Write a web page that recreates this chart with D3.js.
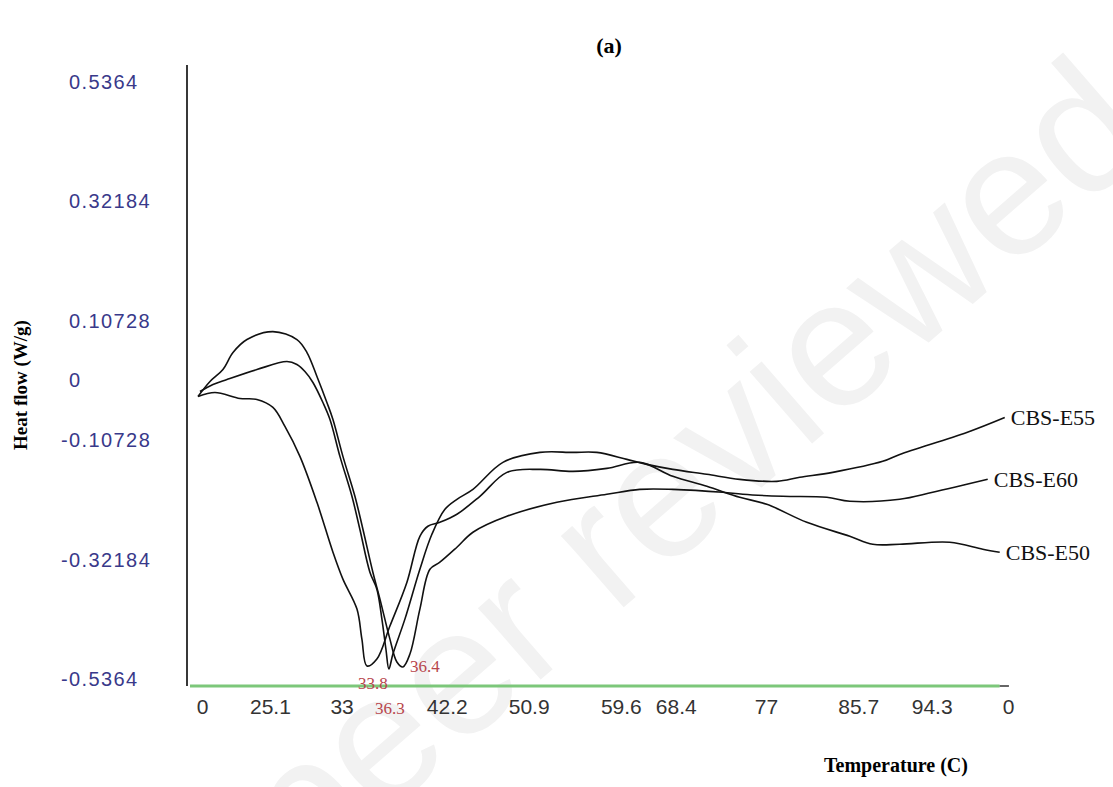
<!DOCTYPE html>
<html>
<head>
<meta charset="utf-8">
<script src="https://cdn.jsdelivr.net/npm/d3@7"></script>
<style>
  body { margin: 0; background: #fff; }
  svg { display: block; }
</style>
</head>
<body>
<svg width="1113" height="787"></svg>
<script>
// temperature (C) vs heat flow (W/g)
const e55Temp = [15.68, 17.08, 18.58, 21.80, 25.03, 26.10, 26.96, 27.82, 28.89, 29.65, 30.72, 32.01, 32.86, 33.94, 34.69, 35.23, 35.66, 35.98, 36.41, 37.70, 39.31, 40.60, 42.00, 43.29, 45.01, 48.23, 52.20, 55.75, 58.32, 61.55, 63.70, 66.49, 70.14, 73.68, 77.66, 80.13, 83.67, 89.04, 90.87, 98.07, 102.15];
const e55Flow = [-0.0197, -0.0072, 0.0018, 0.0197, 0.0341, 0.0287, 0.0161, -0.0036, -0.0395, -0.0700, -0.1363, -0.2081, -0.2673, -0.3445, -0.3750, -0.4288, -0.4825, -0.5183, -0.4916, -0.4288, -0.3391, -0.2763, -0.2314, -0.2135, -0.1956, -0.1471, -0.1292, -0.1292, -0.1292, -0.1417, -0.1507, -0.1597, -0.1686, -0.1776, -0.1812, -0.1740, -0.1651, -0.1453, -0.1328, -0.0933, -0.0664];

const e60Temp = [15.47, 16.76, 18.15, 19.23, 20.73, 23.52, 26.10, 27.18, 28.25, 29.32, 29.97, 31.04, 32.33, 33.19, 34.26, 35.02, 36.09, 36.84, 37.49, 38.24, 39.31, 40.39, 41.46, 43.29, 45.01, 48.66, 54.03, 59.40, 62.94, 66.49, 71.86, 74.01, 78.30, 83.03, 85.50, 90.87, 94.41, 100.32];
const e60Flow = [-0.0287, -0.0018, 0.0197, 0.0502, 0.0736, 0.0879, 0.0736, 0.0502, 0.0072, -0.0395, -0.0700, -0.1363, -0.2081, -0.2673, -0.3445, -0.3929, -0.4647, -0.5059, -0.5147, -0.4916, -0.4108, -0.3391, -0.3265, -0.2996, -0.2727, -0.2440, -0.2189, -0.2045, -0.1956, -0.1956, -0.2009, -0.2045, -0.2081, -0.2099, -0.2171, -0.2135, -0.2009, -0.1776];

const e50Temp = [15.47, 17.29, 19.98, 21.80, 23.52, 24.81, 26.42, 28.25, 29.97, 31.04, 32.55, 33.08, 33.62, 34.69, 36.09, 37.92, 39.31, 40.17, 41.46, 43.29, 45.76, 48.66, 52.20, 55.75, 59.40, 62.94, 66.49, 70.14, 73.68, 76.58, 80.88, 85.50, 87.97, 90.87, 96.24, 99.79, 101.61];
const e50Flow = [-0.0287, -0.0215, -0.0323, -0.0341, -0.0484, -0.0825, -0.1363, -0.2189, -0.3086, -0.3570, -0.4108, -0.4647, -0.5129, -0.5005, -0.4413, -0.3624, -0.2799, -0.2619, -0.2548, -0.2404, -0.2081, -0.1651, -0.1597, -0.1633, -0.1579, -0.1471, -0.1722, -0.1902, -0.2099, -0.2225, -0.2548, -0.2799, -0.2942, -0.2942, -0.2906, -0.3032, -0.3086];

const seriesNames = ['CBS-E55', 'CBS-E60', 'CBS-E50'];

// the instrument software prints odd tick labels; where each one sits, in degrees
const xTickAt = [15.9, 23.2, 30.9, 42.2, 51.0, 60.9, 66.8, 76.5, 86.4, 94.3, 102.5];
const xTickLabels = ['0', '25.1', '33', '42.2', '50.9', '59.6', '68.4', '77', '85.7', '94.3', '0'];
const yTickValues = [0.5364, 0.32184, 0.10728, 0, -0.10728, -0.32184, -0.5364];

// peak temperatures written next to the minima
const peakTemp = [33.62, 35.98, 37.49];
const peakFlow = [-0.5129, -0.5183, -0.5147];
const peakLabels = ['33.8', '36.3', '36.4'];

const svg = d3.select('svg');
const x = d3.scaleLinear().domain([15.9, 102.5]).range([202, 1008]);
const y = d3.scaleLinear().domain([-0.5364, 0.5364]).range([679, 82]);
const baseY = 686;

// faint watermark of the preprint server
svg.append('text')
    .attr('transform', 'translate(700,478) rotate(-41)')
    .attr('text-anchor', 'middle')
    .attr('dominant-baseline', 'middle')
    .style('font-family', 'Liberation Sans, Arial, sans-serif')
    .style('font-size', '180px')
    .style('fill', '#f2f2f2')
    .text('peer reviewed');

// y axis: plain black rule, labels hung well off to the left
svg.append('line')
    .attr('x1', 187).attr('x2', 187)
    .attr('y1', 65).attr('y2', baseY)
    .attr('stroke', '#222').attr('stroke-width', 1.8);

const yAxis = svg.append('g')
    .attr('transform', 'translate(187,0)')
    .call(d3.axisLeft(y).tickValues(yTickValues).tickSize(0).tickFormat(d => d === 0 ? '0' : String(d)));
yAxis.select('.domain').remove();
yAxis.selectAll('text')
    .attr('text-anchor', 'start')
    .attr('x', d => d < 0 ? -126 : -118)
    .style('font-family', 'Liberation Sans, Arial, sans-serif')
    .style('font-size', '20px')
    .style('letter-spacing', '1.4px')
    .style('fill', '#39398a');

// green baseline acting as the x axis
svg.append('line')
    .attr('x1', 190).attr('x2', x(101.6))
    .attr('y1', baseY).attr('y2', baseY)
    .attr('stroke', '#7cc77a').attr('stroke-width', 3);
svg.append('line')
    .attr('x1', x(101.6)).attr('x2', x(102.6))
    .attr('y1', baseY).attr('y2', baseY)
    .attr('stroke', '#333').attr('stroke-width', 1.5);

const xAxis = svg.append('g')
    .attr('transform', `translate(0,${baseY})`)
    .call(d3.axisBottom(x).tickValues(xTickAt).tickSize(0).tickPadding(13).tickFormat((d, i) => xTickLabels[i]));
xAxis.select('.domain').remove();
xAxis.selectAll('text')
    .style('font-family', 'Liberation Sans, Arial, sans-serif')
    .style('font-size', '21px')
    .style('fill', '#333');

// curves
const line = d3.line()
    .x(d => x(d[0]))
    .y(d => y(d[1]))
    .curve(d3.curveCatmullRom.alpha(0.5));

const curves = [
    d3.zip(e55Temp, e55Flow),
    d3.zip(e60Temp, e60Flow),
    d3.zip(e50Temp, e50Flow)
];

svg.append('g').selectAll('path')
    .data(curves)
    .enter().append('path')
    .attr('d', line)
    .attr('fill', 'none')
    .attr('stroke', '#111')
    .attr('stroke-width', 1.6)
    .attr('stroke-linejoin', 'round');

// series names at the right-hand ends
svg.append('g').selectAll('text')
    .data(curves)
    .enter().append('text')
    .attr('x', d => x(d[d.length - 1][0]) + 6)
    .attr('y', d => y(d[d.length - 1][1]))
    .attr('dy', '0.35em')
    .style('font-family', 'Liberation Serif, Times New Roman, serif')
    .style('font-size', '22px')
    .style('fill', '#111')
    .text((d, i) => seriesNames[i]);

// peak temperatures in red
const peakDx = [6, 1, 7];
const peakDy = [23, 45, 5];
const peakAnchor = ['middle', 'middle', 'start'];
svg.append('g').selectAll('text')
    .data(peakLabels)
    .enter().append('text')
    .attr('x', (d, i) => x(peakTemp[i]) + peakDx[i])
    .attr('y', (d, i) => y(peakFlow[i]) + peakDy[i])
    .attr('text-anchor', (d, i) => peakAnchor[i])
    .style('font-family', 'Liberation Serif, Times New Roman, serif')
    .style('font-size', '17px')
    .style('fill', '#b8464c')
    .text(d => d);

// titles
svg.append('text')
    .attr('x', 609).attr('y', 53)
    .attr('text-anchor', 'middle')
    .style('font-family', 'Liberation Serif, Times New Roman, serif')
    .style('font-weight', 'bold')
    .style('font-size', '22px')
    .text('(a)');

svg.append('text')
    .attr('transform', 'translate(27,385) rotate(-90)')
    .attr('text-anchor', 'middle')
    .style('font-family', 'Liberation Serif, Times New Roman, serif')
    .style('font-weight', 'bold')
    .style('font-size', '19px')
    .text('Heat flow (W/g)');

svg.append('text')
    .attr('x', 896).attr('y', 772)
    .attr('text-anchor', 'middle')
    .style('font-family', 'Liberation Serif, Times New Roman, serif')
    .style('font-weight', 'bold')
    .style('font-size', '20px')
    .text('Temperature (C)');
</script>
</body>
</html>
